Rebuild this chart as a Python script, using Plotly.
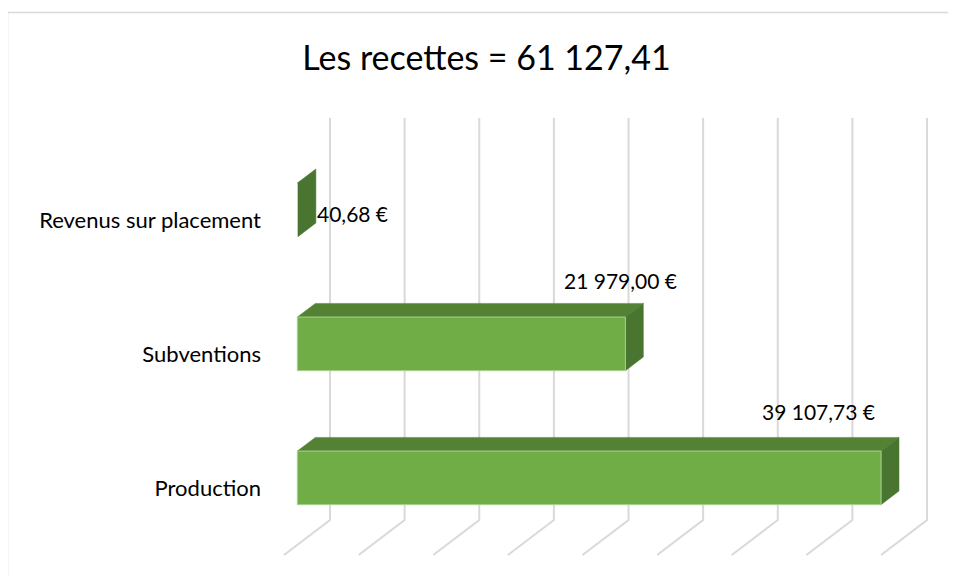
import plotly.graph_objects as go

# data
CATEGORIES = ["Production", "Subventions", "Revenus sur placement"]
VALUES = [39107.73, 21979.00, 40.68]
GRID_TICKS = [0, 5000, 10000, 15000, 20000, 25000, 30000, 35000, 40000]

# label offsets (px) relative to the front-centre of each bar end
LABEL_DX = [-63, -5, 55]
LABEL_DY = [66, 63, -4]

# oblique 3D projection (Excel-like 3D clustered bar)
W, H = 956, 576
OFF = 8                          # page body margin
LEFT = 270 - OFF
PX_PER_UNIT = 0.014926           # px per euro
ZERO_PX = 284 - OFF              # x pixel of value 0 at depth 0
CAT_PX = 134                     # px between categories
FLOOR_PX = 555 - OFF             # y pixel of floor front edge
DEPTH_DX = 46 / PX_PER_UNIT      # full depth offset in value units
DEPTH_DY = 35 / CAT_PX           # full depth offset in category units
BAR_D0, BAR_D1 = 0.29, 0.68
BAR_H = 0.2

FRONT = "#70AD47"
TOP = "#548235"
SIDE = "#4A7530"
GRID = "#D9D9D9"
FONT = "Lato, Carlito, Calibri, sans-serif"


def proj(v, c, d):
    return v + d * DEPTH_DX, c + d * DEPTH_DY


def poly(points, color, line_color=None):
    xs, ys = zip(*[proj(*p) for p in points])
    return go.Scatter(
        x=list(xs) + [xs[0]],
        y=list(ys) + [ys[0]],
        mode="lines",
        fill="toself",
        fillcolor=color,
        line=dict(color=line_color or color, width=1 if line_color else 0.5),
        hoverinfo="skip",
        showlegend=False,
    )


def fr_money(v):
    return f"{v:,.2f}".replace(",", " ").replace(".", ",") + " €"


fig = go.Figure()

# back wall + floor gridlines
for t in GRID_TICKS:
    x0, y0 = proj(t, -0.5, 1)
    x1, y1 = proj(t, 2.5, 1)
    fx, fy = proj(t, -0.5, 0)
    fig.add_trace(
        go.Scatter(
            x=[x1, x0, fx],
            y=[y1, y0, fy],
            mode="lines",
            line=dict(color=GRID, width=2),
            hoverinfo="skip",
            showlegend=False,
        )
    )

# 3D bars
for i, (cat, v) in enumerate(zip(CATEGORIES, VALUES)):
    c = i
    fig.add_trace(poly([(0, c + BAR_H, BAR_D0), (v, c + BAR_H, BAR_D0),
                        (v, c + BAR_H, BAR_D1), (0, c + BAR_H, BAR_D1)], TOP))
    fig.add_trace(poly([(v, c - BAR_H, BAR_D0), (v, c - BAR_H, BAR_D1),
                        (v, c + BAR_H, BAR_D1), (v, c + BAR_H, BAR_D0)], SIDE))
    if v * PX_PER_UNIT > 2:
        fig.add_trace(poly([(0, c - BAR_H, BAR_D0), (v, c - BAR_H, BAR_D0),
                            (v, c + BAR_H, BAR_D0), (0, c + BAR_H, BAR_D0)],
                           FRONT, "#A9D18E"))
    lx, ly = proj(v, c, BAR_D0)
    fig.add_annotation(
        x=lx, y=ly, text=fr_money(v), showarrow=False,
        xanchor="center", yanchor="middle",
        xshift=LABEL_DX[i], yshift=LABEL_DY[i],
        font=dict(family=FONT, size=21, color="#000000"),
    )

x_lo = (LEFT - ZERO_PX) / PX_PER_UNIT
x_hi = (W - ZERO_PX) / PX_PER_UNIT
y_lo = (FLOOR_PX - H) / CAT_PX - 0.5
y_hi = FLOOR_PX / CAT_PX - 0.5

total = sum(VALUES)
title = "Les recettes = " + f"{total:,.2f}".replace(",", " ").replace(".", ",")

fig.update_layout(
    width=W,
    height=H,
    margin=dict(l=LEFT, r=0, t=0, b=0),
    paper_bgcolor="white",
    plot_bgcolor="white",
    showlegend=False,
    title=dict(
        text=title,
        x=(486.5 - OFF) / W, xanchor="center",
        y=1 - (58 - OFF) / H, yanchor="middle",
        font=dict(family=FONT, size=34, color="#000000"),
    ),
    xaxis=dict(range=[x_lo, x_hi], visible=False, fixedrange=True),
    yaxis=dict(
        range=[y_lo, y_hi],
        tickvals=list(range(len(CATEGORIES))),
        ticktext=CATEGORIES,
        showgrid=False, zeroline=False, showline=False,
        ticks="", ticklabelstandoff=8,
        tickfont=dict(family=FONT, size=22, color="#000000"),
        fixedrange=True,
    ),
    shapes=[
        dict(
            type="rect", xref="paper", yref="paper",
            x0=(7.5 - OFF - LEFT) / (W - LEFT), x1=1.05,
            y0=-0.05, y1=1 - (12.5 - OFF) / H,
            line=dict(color=GRID, width=1.5),
            fillcolor="rgba(0,0,0,0)", layer="below",
        )
    ],
)

fig.write_html("out.html")
